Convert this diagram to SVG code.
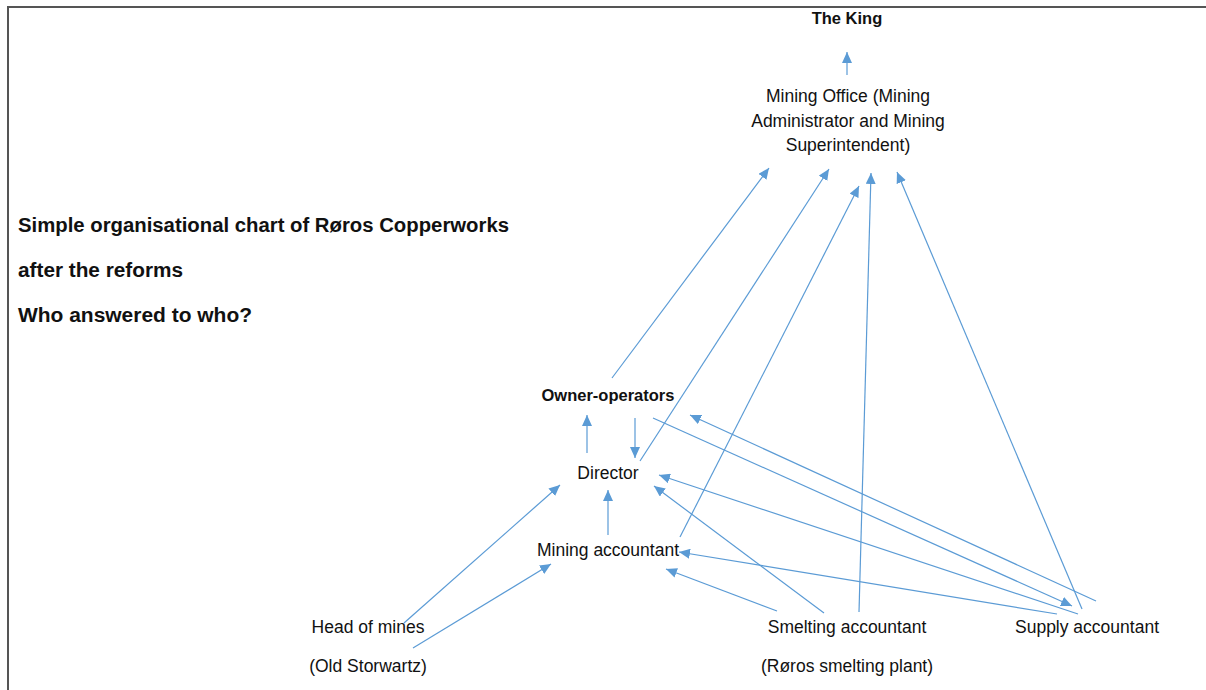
<svg xmlns="http://www.w3.org/2000/svg" width="1206" height="690" viewBox="0 0 1206 690">
<style>
text{font-family:"Liberation Sans",Arial,sans-serif;font-size:17.5px;fill:#111}
.b{font-weight:bold;font-size:16.5px}
.c{text-anchor:middle}
.t{font-size:20px;font-weight:bold}
#connectors line{stroke:#5B9BD5;stroke-width:1.2;fill:none;marker-end:url(#ah)}
</style>
<defs>
<marker id="ah" markerUnits="userSpaceOnUse" markerWidth="12" markerHeight="10" refX="11" refY="5" orient="auto">
<path d="M0,0 L11,5 L0,10 Z" fill="#5B9BD5"/>
</marker>
</defs>
<rect width="1206" height="690" fill="#fff"/>
<path d="M8,690 V7 H1206" fill="none" stroke="#555" stroke-width="2"/>
<g id="title">
<text class="t" x="18" y="232" textLength="491" lengthAdjust="spacingAndGlyphs">Simple organisational chart of Røros Copperworks</text>
<text class="t" x="18" y="277" textLength="165" lengthAdjust="spacingAndGlyphs">after the reforms</text>
<text class="t" x="18" y="322" textLength="234" lengthAdjust="spacingAndGlyphs">Who answered to who?</text>
</g>
<g id="king"><text class="b c" x="847" y="24">The King</text></g>
<g id="mining-office">
<text class="c" x="848" y="102">Mining Office (Mining</text>
<text class="c" x="848" y="127">Administrator and Mining</text>
<text class="c" x="848" y="151">Superintendent)</text>
</g>
<g id="owner-operators"><text class="b c" x="608" y="401">Owner-operators</text></g>
<g id="director"><text class="c" x="608" y="479">Director</text></g>
<g id="mining-accountant"><text class="c" x="608" y="556">Mining accountant</text></g>
<g id="head-of-mines">
<text class="c" x="368" y="633">Head of mines</text>
<text class="c" x="368" y="672">(Old Storwartz)</text>
</g>
<g id="smelting-accountant">
<text class="c" x="847" y="633">Smelting accountant</text>
<text class="c" x="847" y="672">(Røros smelting plant)</text>
</g>
<g id="supply-accountant"><text class="c" x="1087" y="633">Supply accountant</text></g>
<g id="connectors">
<line x1="847" y1="75" x2="847" y2="52"/>
<line x1="612" y1="378" x2="769" y2="168"/>
<line x1="640" y1="461" x2="829" y2="169"/>
<line x1="680" y1="537" x2="859" y2="186"/>
<line x1="859" y1="612" x2="871" y2="173"/>
<line x1="1082" y1="609" x2="897" y2="172"/>
<line x1="587" y1="453" x2="587" y2="415"/>
<line x1="635" y1="418" x2="635" y2="458"/>
<line x1="608" y1="535" x2="608" y2="490"/>
<line x1="404" y1="623" x2="560" y2="485"/>
<line x1="413" y1="648" x2="551" y2="564"/>
<line x1="653" y1="418" x2="1072" y2="606"/>
<line x1="1096" y1="601" x2="690" y2="415"/>
<line x1="1078" y1="614" x2="659" y2="475"/>
<line x1="824" y1="613" x2="654" y2="486"/>
<line x1="1057" y1="614" x2="679" y2="552"/>
<line x1="777" y1="611" x2="666" y2="569"/>
</g>
</svg>
